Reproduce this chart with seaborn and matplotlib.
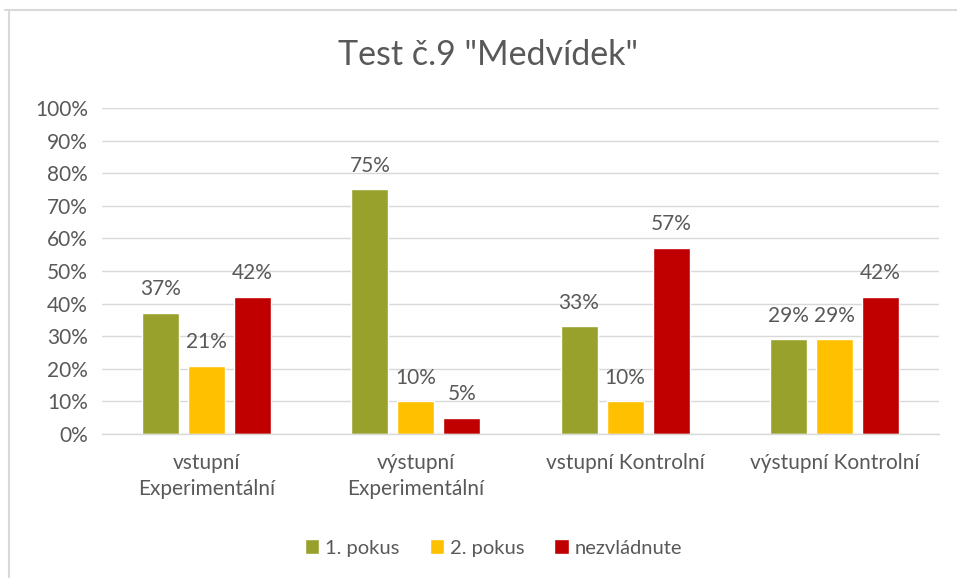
import matplotlib
matplotlib.use("Agg")
import matplotlib.pyplot as plt
import seaborn as sns
import pandas as pd
from matplotlib.lines import Line2D

categories = ["vstupní\nExperimentální", "výstupní\nExperimentální", "vstupní Kontrolní", "výstupní Kontrolní"]
series = ["1. pokus", "2. pokus", "nezvládnute"]
pokus1 = [37, 75, 33, 29]
pokus2 = [21, 10, 10, 29]
nezvladnute = [42, 5, 57, 42]
yticks = [0, 10, 20, 30, 40, 50, 60, 70, 80, 90, 100]
colors = ["#98A12B", "#FFC000", "#C00000"]

rows = []
for s, vals in zip(series, [pokus1, pokus2, nezvladnute]):
    for c, v in zip(categories, vals):
        rows.append({"cat": c, "series": s, "val": v})
df = pd.DataFrame(rows)

sns.set_theme(style="white")
plt.rcParams['font.family'] = ['Lato', 'DejaVu Sans']
txt = "#595959"

fig = plt.figure(figsize=(9.57, 5.78), dpi=100)
ax = fig.add_axes([102/957, 1 - 434/578, 837/957, 326/578])
sns.barplot(data=df, x="cat", y="val", hue="series", palette=colors,
            width=0.66, gap=0.2, ax=ax, legend=True, errorbar=None, saturation=1)

ax.set_ylim(0, 100)
ax.set_yticks(yticks)
ax.set_yticklabels([f"{t}%" for t in yticks], color=txt, fontsize=15)
ax.tick_params(axis='x', colors=txt, labelsize=15, length=0, pad=14)
ax.tick_params(axis='y', length=0, pad=10)
for lab in ax.get_xticklabels():
    lab.set_linespacing(1.35)
ax.set_xlabel("")
ax.set_ylabel("")
ax.set_xlim(-0.5, 3.5)
ax.grid(axis='y', color="#D9D9D9", linewidth=1)
ax.set_axisbelow(True)
for sp in ["top", "right", "left"]:
    ax.spines[sp].set_visible(False)
ax.spines["bottom"].set_color("#D9D9D9")
ax.spines["bottom"].set_linewidth(1)

for cont in ax.containers:
    ax.bar_label(cont, labels=[f"{int(v)}%" for v in cont.datavalues],
                 padding=10, color=txt, fontsize=15)

leg = ax.legend(loc="center", bbox_to_anchor=((493.5 - 102) / 837, (434 - 548) / 326), ncol=3,
                frameon=False, fontsize=14.5, handlelength=0.7, handleheight=0.7,
                columnspacing=1.5, handletextpad=0.3)
for t in leg.get_texts():
    t.set_color(txt)

fig.text(0.51, 1 - 55/578, 'Test č.9 "Medvídek"', ha="center", va="center",
         fontsize=24.5, color=txt)

fig.lines.append(Line2D([5/957, 1], [1 - 10/578, 1 - 10/578], transform=fig.transFigure,
                        color="#D9D9D9", linewidth=1.5))
fig.lines.append(Line2D([9/957, 9/957], [0, 1 - 10/578], transform=fig.transFigure,
                        color="#D9D9D9", linewidth=1.5))

fig.savefig("out.png", dpi=100)
